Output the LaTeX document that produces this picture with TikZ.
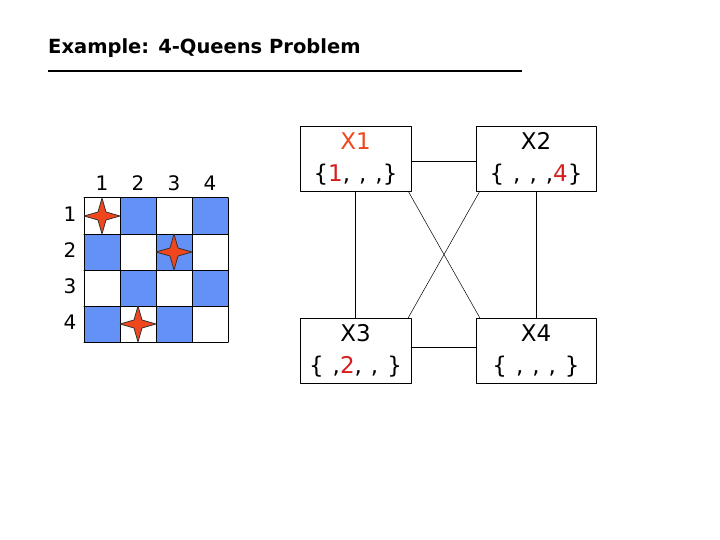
\documentclass[tikz,border=0pt]{standalone}
\usepackage{fontspec}
\setmainfont{DejaVu Sans}
\definecolor{boardblue}{RGB}{100,145,245}
\definecolor{queenred}{RGB}{240,70,30}
\definecolor{valred}{RGB}{215,30,30}
\tikzset{
    varbox/.style={draw, minimum width=111pt, minimum height=65pt, inner sep=0pt, align=center, font=\fontsize{23}{32}\selectfont},
    label num/.style={font=\fontsize{20}{22}\selectfont},
    queen/.style={fill=queenred, draw=black!80, line width=0.8pt},
}
\newcommand{\qstar}[2]{\draw[queen] (#1,#2-18) -- (#1+4,#2-4) -- (#1+18,#2) -- (#1+4,#2+4) -- (#1,#2+18) -- (#1-4,#2+4) -- (#1-18,#2) -- (#1-4,#2-4) -- cycle;}
\newcommand{\gap}{\hspace{9pt}}
\begin{document}
\begin{tikzpicture}[x=1pt, y=-1pt, line cap=round, line join=round]
    \useasboundingbox (0,0) rectangle (720,540);

    % title
    \node[anchor=west, font=\bfseries\fontsize{19.5}{22}\selectfont, inner sep=0pt] (title) at (48,48) {Example: 4-Queens Problem};
    \draw[line width=2.5pt, line cap=butt] (48,71) -- (522,71);

    % parameters of the board
    \def\cs{36}
    \def\bx{84}
    \def\by{198}

    % squares
    \foreach \r in {1,...,4}{
        \foreach \c in {1,...,4}{
            \pgfmathsetmacro{\x}{\bx+(\c-1)*\cs}
            \pgfmathsetmacro{\y}{\by+(\r-1)*\cs}
            \pgfmathtruncatemacro{\odd}{mod(\r+\c,2)}
            \ifnum\odd=1
                \fill[boardblue] (\x,\y) rectangle ++(\cs,\cs);
            \fi
        }
    }
    \foreach \k in {0,...,4}{
        \draw[line width=1pt] (\bx+\k*\cs,\by) -- (\bx+\k*\cs,\by+4*\cs);
        \draw[line width=1pt] (\bx,\by+\k*\cs) -- (\bx+4*\cs,\by+\k*\cs);
    }

    % row and column numbers
    \foreach \k in {1,...,4}{
        \node[label num] (col\k) at (\bx+\k*\cs-18,183) {\k};
        \node[label num] (row\k) at (70,\by+\k*\cs-20) {\k};
    }

    % queens
    \qstar{102}{216}
    \qstar{174}{252}
    \qstar{138}{324}

    % variables
    \node[varbox] (x1) at (355.5,158.5) {\textcolor{queenred}{X1}\\\{\textcolor{valred}{1},\gap,\gap,\}};
    \node[varbox, minimum width=120pt] (x2) at (536,158.5) {X2\\\{\gap,\gap,\gap,\textcolor{valred}{4}\}};
    \node[varbox] (x3) at (355.5,350.5) {X3\\\{\gap,\textcolor{valred}{2},\gap,\gap\}};
    \node[varbox, minimum width=120pt] (x4) at (536,350.5) {X4\\\{\gap,\gap,\gap,\gap\}};

    % constraints
    \draw[line width=0.5pt] ([yshift=-3pt]x1.east) -- ([yshift=-3pt]x2.west);
    \draw[line width=0.5pt] ([yshift=3pt]x3.east) -- ([yshift=3pt]x4.west);
    \draw[line width=0.5pt] (x1.south) -- (x3.north);
    \draw[line width=0.5pt] (x2.south) -- (x4.north);
    \draw[line width=0.5pt] ([xshift=-3pt]x1.south east) -- ([xshift=4pt]x4.north west);
    \draw[line width=0.5pt] ([xshift=4pt]x2.south west) -- ([xshift=-3pt]x3.north east);
\end{tikzpicture}
\end{document}
